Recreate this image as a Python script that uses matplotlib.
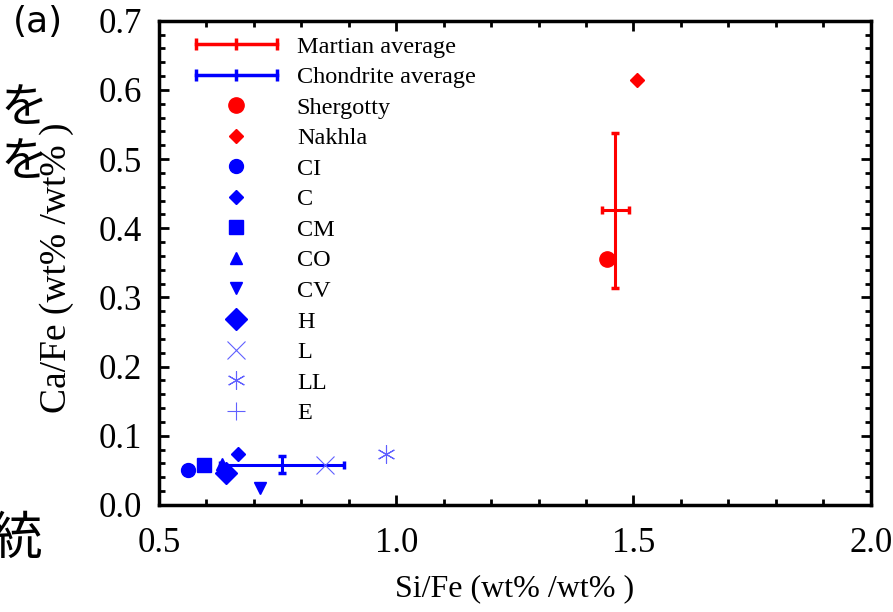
import numpy as np
import matplotlib.pyplot as plt
from matplotlib.ticker import MultipleLocator
from matplotlib.lines import Line2D
from matplotlib.legend_handler import HandlerLine2D

plt.rcParams['font.family'] = ['Liberation Serif', 'DejaVu Serif']

# 平均值 (中心, 误差)
mars_avg = (1.462, 0.426)
mars_err = (0.029, 0.112)
chon_avg = (0.760, 0.058)
chon_err = (0.131, 0.012)

# 陨石数据 Si/Fe, Ca/Fe
names = ['Shergotty', 'Nakhla', 'CI', 'C', 'CM', 'CO', 'CV', 'H', 'L', 'LL', 'E']
si_fe = [1.445, 1.508, 0.561, 0.666, 0.594, 0.632, 0.714, 0.641, 0.851, 0.979, None]
ca_fe = [0.356, 0.615, 0.051, 0.074, 0.057, 0.059, 0.025, 0.046, 0.058, 0.074, None]

styles = {
    'Shergotty': dict(marker='o', color='red', ms=11),
    'Nakhla': dict(marker='D', color='red', ms=7.5),
    'CI': dict(marker='o', color='blue', ms=10),
    'C': dict(marker='D', color='blue', ms=7),
    'CM': dict(marker='s', color='blue', ms=10),
    'CO': dict(marker='^', color='blue', ms=9),
    'CV': dict(marker='v', color='blue', ms=9),
    'H': dict(marker='D', color='blue', ms=11),
    'L': dict(marker='x', color='#6060ff', ms=13, mew=0.8),
    'LL': dict(marker=(6, 2, 0), color='#6060ff', ms=13, mew=0.8),
    'E': dict(marker='+', color='#6060ff', ms=13, mew=0.8),
}

fig = plt.figure(figsize=(8.93, 6.12), dpi=100)
ax = fig.add_axes([0.178, 0.175, 0.797, 0.791])

ax.errorbar(*mars_avg, xerr=mars_err[0], yerr=mars_err[1], color='red', lw=2.2,
            capsize=3, capthick=2.5, zorder=3)
ax.errorbar(*chon_avg, xerr=chon_err[0], yerr=chon_err[1], color='blue', lw=2.2,
            capsize=3, capthick=2.5, zorder=3)

# 图例里的误差棒样式
h_mars = Line2D([], [], color='red', lw=2.5, marker='|', ms=9, mew=2.5, label='Martian average')
h_chon = Line2D([], [], color='blue', lw=2.5, marker='|', ms=9, mew=2.5, label='Chondrite average')
handles = [h_mars, h_chon]

for n, x, y in zip(names, si_fe, ca_fe):
    st = dict(styles[n])
    ms = st.pop('ms')
    xs = [] if x is None else [x]
    ys = [] if y is None else [y]
    h, = ax.plot(xs, ys, ls='none', ms=ms, label=n, zorder=4, **st)
    handles.append(h)

ax.set_xlim(0.5, 2.0)
ax.set_ylim(0.0, 0.7)
ax.xaxis.set_major_locator(MultipleLocator(0.5))
ax.xaxis.set_minor_locator(MultipleLocator(0.1))
ax.yaxis.set_major_locator(MultipleLocator(0.1))
ax.yaxis.set_minor_locator(MultipleLocator(0.02))
ax.xaxis.set_major_formatter(plt.FormatStrFormatter('%.1f'))
ax.yaxis.set_major_formatter(plt.FormatStrFormatter('%.1f'))
ax.tick_params(which='both', direction='in', top=True, right=True, width=2, labelsize=25)
ax.tick_params(which='major', length=7)
ax.tick_params(which='minor', length=4)
ax.tick_params(axis='x', which='major', pad=16)
ax.tick_params(axis='y', which='major', pad=12)
for s in ax.spines.values():
    s.set_linewidth(2.5)

ax.set_xlabel('Si/Fe (wt% /wt% )', fontsize=23, labelpad=10)
ax.set_ylabel('Ca/Fe (wt% /wt% )', fontsize=27)
ax.yaxis.set_label_coords(-0.12, 0.49)

ax.legend(handles=handles, loc='upper left', frameon=False, fontsize=17.5,
          handlelength=3.33, handletextpad=0.82, labelspacing=0.35,
          borderaxespad=0, borderpad=0, bbox_to_anchor=(0.052, 0.969),
          handler_map={h_mars: HandlerLine2D(numpoints=3, marker_pad=0),
                       h_chon: HandlerLine2D(numpoints=3, marker_pad=0)})

# 页面上残留的文字
fig.text(0.014, 0.992, '(a)', fontsize=26, family=['DejaVu Sans'], va='top')
fig.text(0.0, 0.862, 'を', fontsize=34, family=['Noto Sans CJK JP'], va='top')
fig.text(0.0, 0.774, 'を', fontsize=34, family=['Noto Sans CJK JP'], va='top')
fig.text(-0.01, 0.163, '統', fontsize=37, family=['Noto Sans CJK JP'], va='top')

fig.savefig('out.png', dpi=100)
